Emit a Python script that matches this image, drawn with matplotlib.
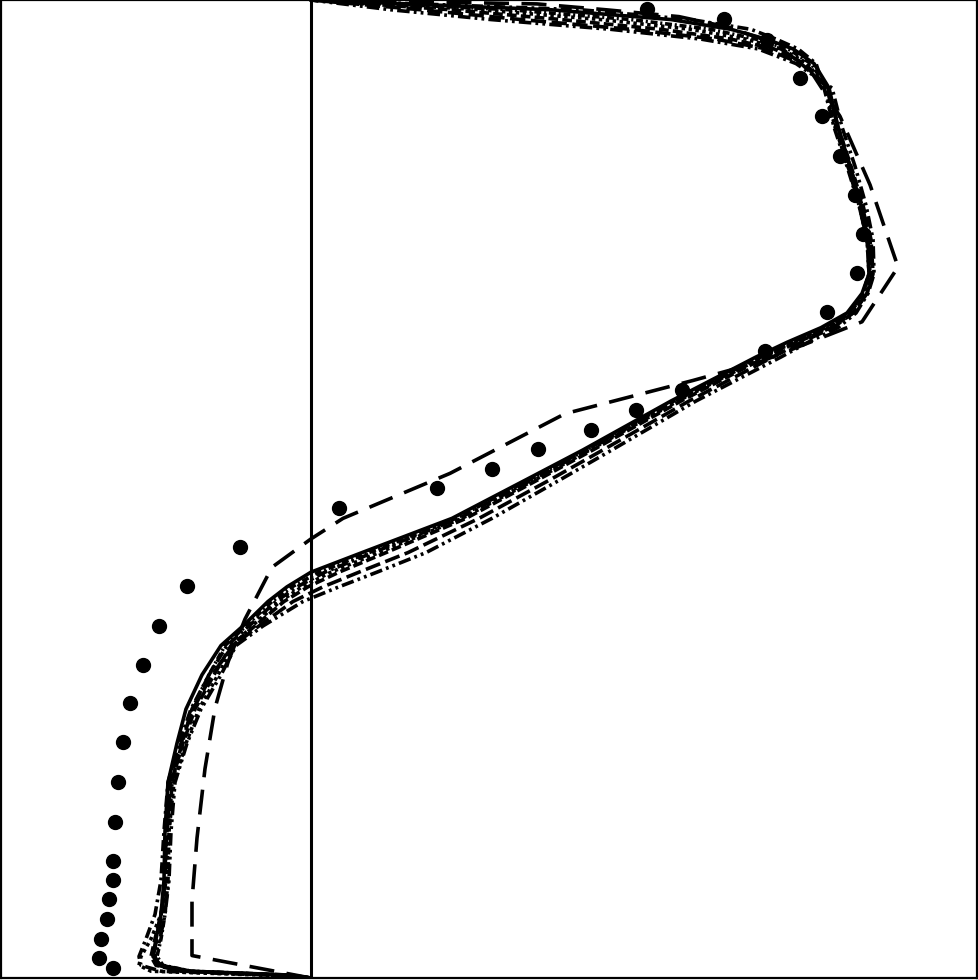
import matplotlib.pyplot as plt

plt.rcParams["lines.scale_dashes"] = False

# observations
obs_u = [0.336, 0.413, 0.456, 0.489, 0.511, 0.529, 0.544, 0.552, 0.546, 0.516, 0.454,
         0.371, 0.325, 0.280, 0.227, 0.181, 0.126, 0.028, -0.071, -0.124, -0.152, -0.168,
         -0.181, -0.188, -0.193, -0.196, -0.198, -0.198, -0.202, -0.204, -0.210, -0.212, -0.198]
obs_z = [0.991, 0.981, 0.959, 0.920, 0.881, 0.841, 0.801, 0.761, 0.721, 0.681, 0.641,
         0.601, 0.581, 0.560, 0.541, 0.520, 0.501, 0.481, 0.441, 0.401, 0.360, 0.320,
         0.281, 0.241, 0.200, 0.160, 0.120, 0.100, 0.081, 0.060, 0.040, 0.020, 0.010]

# model runs on a shared vertical grid
z = [0, 0.003, 0.007, 0.013, 0.022, 0.04, 0.065, 0.1, 0.15, 0.2, 0.24, 0.275, 0.31, 0.34,
     0.36, 0.385, 0.4, 0.415, 0.435, 0.47, 0.51, 0.54, 0.59, 0.635, 0.65, 0.665, 0.68, 0.7,
     0.72, 0.755, 0.79, 0.83, 0.87, 0.91, 0.935, 0.95, 0.96, 0.97, 0.98, 0.99, 1.0]

u_a = [0, -0.02, -0.12, -0.15, -0.158, -0.155, -0.15, -0.147, -0.146, -0.143, -0.134, -0.125,
       -0.109, -0.09, -0.068, -0.043, -0.024, 0.0, 0.051, 0.141, 0.216, 0.272, 0.36, 0.445,
       0.476, 0.51, 0.536, 0.551, 0.558, 0.557, 0.55, 0.539, 0.527, 0.518, 0.503, 0.482, 0.455,
       0.42, 0.36, 0.24, 0]
u_g = [0, -0.022, -0.12, -0.148, -0.154, -0.15, -0.146, -0.143, -0.142, -0.139, -0.129, -0.119,
       -0.102, -0.086, -0.065, -0.039, -0.019, 0.008, 0.058, 0.145, 0.219, 0.275, 0.363, 0.448,
       0.479, 0.513, 0.538, 0.552, 0.558, 0.556, 0.548, 0.537, 0.525, 0.516, 0.5, 0.477, 0.445,
       0.40, 0.32, 0.2, 0]
u_c = [0, -0.04, -0.15, -0.17, -0.172, -0.165, -0.156, -0.15, -0.147, -0.143, -0.132, -0.12,
       -0.102, -0.084, -0.062, -0.035, -0.014, 0.014, 0.062, 0.148, 0.222, 0.277, 0.365, 0.45,
       0.481, 0.515, 0.538, 0.552, 0.558, 0.556, 0.548, 0.536, 0.523, 0.513, 0.505, 0.487, 0.465,
       0.44, 0.38, 0.27, 0]
u_d = [0, -0.05, -0.16, -0.172, -0.17, -0.16, -0.15, -0.145, -0.142, -0.137, -0.125, -0.112,
       -0.093, -0.078, -0.059, -0.031, -0.009, 0.02, 0.068, 0.151, 0.225, 0.279, 0.367, 0.452,
       0.483, 0.517, 0.539, 0.553, 0.559, 0.557, 0.549, 0.537, 0.524, 0.514, 0.497, 0.47, 0.435,
       0.38, 0.29, 0.17, 0]
u_b = [0, -0.03, -0.13, -0.155, -0.16, -0.156, -0.15, -0.146, -0.144, -0.14, -0.128, -0.116,
       -0.097, -0.08, -0.056, -0.027, -0.003, 0.028, 0.075, 0.155, 0.228, 0.282, 0.37, 0.455,
       0.486, 0.52, 0.542, 0.556, 0.562, 0.56, 0.552, 0.54, 0.527, 0.517, 0.494, 0.463, 0.42,
       0.35, 0.25, 0.14, 0]
u_f = [0, -0.026, -0.126, -0.153, -0.158, -0.154, -0.149, -0.146, -0.145, -0.142, -0.13, -0.118,
       -0.099, -0.078, -0.052, -0.018, 0.012, 0.048, 0.097, 0.168, 0.24, 0.292, 0.378, 0.462,
       0.49, 0.522, 0.542, 0.556, 0.561, 0.559, 0.551, 0.539, 0.527, 0.517, 0.49, 0.455, 0.405,
       0.32, 0.21, 0.11, 0]
u_e = [0, -0.028, -0.128, -0.152, -0.156, -0.151, -0.146, -0.142, -0.14, -0.136, -0.124, -0.11,
       -0.09, -0.075, -0.048, -0.008, 0.028, 0.066, 0.115, 0.181, 0.25, 0.301, 0.385, 0.47,
       0.497, 0.527, 0.545, 0.557, 0.563, 0.562, 0.555, 0.544, 0.531, 0.521, 0.485, 0.447, 0.39,
       0.30, 0.18, 0.08, 0]

# coarse run, own grid
z_coarse = [0, 0.023, 0.079, 0.143, 0.214, 0.276, 0.323, 0.367, 0.42, 0.449, 0.47, 0.516,
            0.577, 0.611, 0.63, 0.671, 0.727, 0.811, 0.881, 0.93, 0.957, 0.972, 0.983, 0.99,
            0.996, 1.0]
u_coarse = [0, -0.119, -0.119, -0.114, -0.106, -0.096, -0.083, -0.066, -0.039, 0.0, 0.032,
            0.139, 0.254, 0.382, 0.449, 0.551, 0.587, 0.559, 0.529, 0.498, 0.46, 0.418, 0.368,
            0.295, 0.226, 0]

fig = plt.figure(figsize=(9.79, 9.80), dpi=100)
ax = fig.add_axes([0.001, 0.002, 0.997, 0.998])

lw = 2.6
ax.plot(u_a, z, color="black", lw=lw, ls="-")
ax.plot(u_g, z, color="black", lw=lw, dashes=(5, 2, 1.5, 2))
ax.plot(u_c, z, color="black", lw=lw, dashes=(8, 3, 2, 3))
ax.plot(u_d, z, color="black", lw=lw, dashes=(2.5, 2.5))
ax.plot(u_b, z, color="black", lw=lw, dashes=(7, 3))
ax.plot(u_f, z, color="black", lw=lw, dashes=(11, 4))
ax.plot(u_e, z, color="black", lw=lw, dashes=(9, 3, 2, 3, 2, 3))
ax.plot(u_coarse, z_coarse, color="black", lw=lw, dashes=(18, 9))

ax.axvline(0, color="black", lw=2.2)
ax.plot(obs_u, obs_z, "o", color="black", ms=10, zorder=5)

ax.set_xlim(-0.310, 0.666)
ax.set_ylim(0, 1)
ax.set_xticks([])
ax.set_yticks([])
for s in ax.spines.values():
    s.set_linewidth(1.6)

fig.savefig("out.png", dpi=100)
